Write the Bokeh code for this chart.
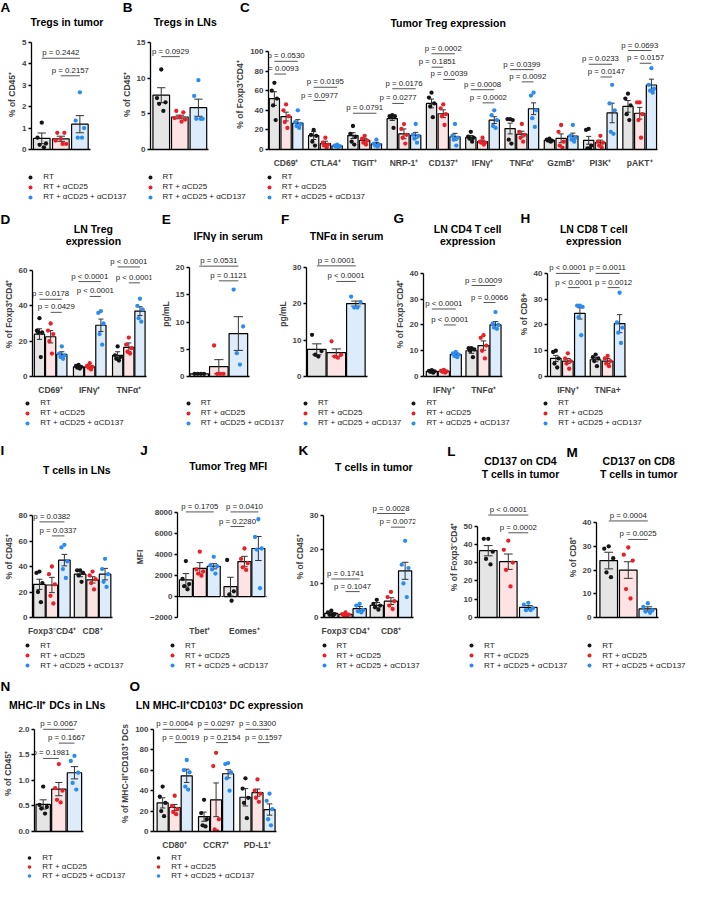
import numpy as np
from bokeh.plotting import figure
from bokeh.models import (Range1d, FixedTicker, Label, Legend, LegendItem,
                          NumeralTickFormatter)
from bokeh.layouts import row, column
from bokeh.embed import file_html
from bokeh.resources import INLINE
from bokeh.core.properties import value

# ------------------------------------------------------------------ data
CONDITIONS = ["RT", "RT + αCD25", "RT + αCD25 + αCD137"]

A_groups = [""]
A_means = [[0.52, 0.50, 1.18]]
A_sems = [[0.25, 0.12, 0.40]]
A_pts = [[[1.25, 0.55, 0.28, 0.22, 0.10], [0.78, 0.78, 0.50, 0.42, 0.26, 0.26], [2.67, 1.35, 1.00, 0.55, 0.55]]]
A_pvals = [("p = 0.2442", 0, 0, 2, 4.26), ("p = 0.2157", 0, 1, 2, 3.44)]
A_ticks = [0, 1, 2, 3, 4, 5]

B_groups = [""]
B_means = [[7.6, 4.55, 5.85]]
B_sems = [[1.05, 0.25, 1.2]]
B_pts = [[[11.2, 7.2, 6.6, 6.4, 5.4], [5.4, 5.2, 4.6, 4.4, 4.2, 3.9], [9.7, 7.5, 4.3, 4.3, 4.3]]]
B_pvals = [("p = 0.0929", 0, 0, 1, 13.0)]
B_ticks = [0, 5, 10, 15]

C_groups = ["CD69⁺", "CTLA4⁺", "TIGIT⁺", "NRP-1⁺", "CD137⁺", "IFNγ⁺", "TNFα⁺", "GzmB⁺", "PI3K⁺", "pAKT⁺"]
C_means = [[52, 33.6, 27], [14.2, 6, 3.7], [14.2, 9.4, 5.7], [31.6, 16, 14.5], [47, 36.5, 13],
           [12.3, 8, 30], [21.4, 15.7, 41.6], [9.4, 11.4, 13.7], [9.4, 7.1, 37.3], [44, 37, 65.8]]
C_sems = [[7, 4.5, 3.5], [4, 2.5, 1], [3, 2, 1.5], [2, 5, 3], [4.5, 4, 3.5],
          [2, 1.5, 3.5], [5.5, 3, 6], [1, 4.5, 3], [4, 2.5, 10], [6, 6, 6]]
C_pts = [
    [[68, 60, 52, 45, 30], [46, 40, 34, 28, 22], [40, 28, 26, 24, 22]],
    [[20, 15, 14, 8, 4], [12, 7, 5, 4, 2], [5, 4, 3.5, 3, 2.5]],
    [[24, 16, 13, 8, 5], [14, 11, 9, 7, 5], [10, 6, 5, 4, 3]],
    [[35, 34, 34, 33, 22], [26, 21, 15, 12, 6], [26, 15, 14, 11, 7]],
    [[58, 53, 47, 44, 33], [46, 42, 36, 34, 25], [26, 14, 12, 10, 4]],
    [[18, 13, 12, 11, 8], [12, 8, 7, 7, 5], [40, 35, 30, 24, 22]],
    [[31, 31, 30, 10, 6], [26, 18, 15, 12, 8], [58, 55, 40, 32, 23]],
    [[11, 10, 9, 9, 8], [25, 18, 8, 4, 2], [25, 14, 12, 10, 8]],
    [[21, 20, 4, 1, 1], [14, 8, 7, 4, 2], [66, 47, 40, 18, 16]],
    [[57, 52, 45, 36, 30], [48, 48, 36, 30, 12], [83, 66, 62, 60, 58]],
]
C_pvals = [("p = 0.0530", 0, 0, 2, 90), ("p = 0.0093", 0, 0, 1, 77),
           ("p = 0.0195", 1, 0, 2, 63.5), ("p = 0.0977", 1, 0, 1, 50),
           ("p = 0.0791", 2, 0, 2, 37),
           ("p = 0.0176", 3, 0, 2, 62), ("p = 0.0277", 3, 0, 1, 47),
           ("p = 0.0002", 4, 0, 2, 97.7), ("p = 0.1851", 4, 0, 1, 84), ("p = 0.0039", 4, 1, 2, 71.5),
           ("p = 0.0008", 5, 0, 2, 61), ("p = 0.0002", 5, 1, 2, 47.6),
           ("p = 0.0399", 6, 0, 2, 81.5), ("p = 0.0092", 6, 1, 2, 69),
           ("p = 0.0233", 8, 0, 2, 87), ("p = 0.0147", 8, 1, 2, 74),
           ("p = 0.0693", 9, 0, 2, 101), ("p = 0.0157", 9, 1, 2, 88)]
C_ticks = [0, 20, 40, 60, 80, 100]

D_groups = ["CD69⁺", "IFNγ⁺", "TNFα⁺"]
D_means = [[24, 22.5, 12.5], [5.5, 5.5, 29], [12, 16.5, 37]]
D_sems = [[3, 3.5, 1.5], [0.5, 0.5, 3.5], [2, 2.5, 2.5]]
D_pts = [[[33, 26, 25, 25, 11], [30, 26, 24, 20, 13], [17, 13, 12, 11, 10]],
         [[6.5, 6, 5.5, 5, 4.5], [7.5, 6, 5.5, 5, 4], [37, 36, 30, 24, 18]],
         [[17, 12, 11, 10, 9], [22, 18, 16, 14, 13], [44, 40, 38, 33, 31]]]
D_pvals = [("p = 0.0178", 0, 0, 2, 43.7), ("p = 0.0429", 0, 1, 2, 36.3),
           ("p < 0.0001", 1, 0, 2, 53.7), ("p < 0.0001", 1, 1, 2, 45.3),
           ("p < 0.0001", 2, 0, 2, 62), ("p < 0.0001", 2, 1, 2, 53)]
D_ticks = [0, 20, 40, 60]

E_groups = [""]
E_means = [[0.5, 1.8, 7.9]]
E_sems = [[0, 1.3, 3.1]]
E_pts = [[[0.5, 0.5, 0.5, 0.5], [5.7, 0.5, 0.5, 0.5], [16, 9.2, 4.3, 2.2]]]
E_pvals = [("p = 0.0531", 0, 0, 2, 20.3), ("p = 0.1121", 0, 1, 2, 17.6)]
E_ticks = [0, 5, 10, 15, 20]

F_groups = [""]
F_means = [[7.5, 6.6, 20.1]]
F_sems = [[1.5, 1.0, 0.7]]
F_pts = [[[11.5, 7, 6, 5.5], [9.7, 6, 5.5, 5.2], [22, 20.5, 19, 19]]]
F_pvals = [("p = 0.0001", 0, 0, 2, 30.5), ("p < 0.0001", 0, 1, 2, 26.2)]
F_ticks = [0, 10, 20, 30]

G_groups = ["IFNγ⁺", "TNFα⁺"]
G_means = [[2, 2, 8.5], [10, 12, 20]]
G_sems = [[0.3, 0.3, 0.7], [1, 1.8, 1.3]]
G_pts = [[[2.5, 2.2, 2, 1.8, 1.5], [2.6, 2.2, 2, 1.8, 1.5], [9.5, 9, 8.5, 8, 7.5]],
         [[11, 11, 10.5, 10, 7.5], [16, 15, 12, 10, 7], [25, 20.5, 20, 19, 18.5]]]
G_pvals = [("p < 0.0001", 0, 0, 2, 26.2), ("p < 0.0001", 0, 1, 2, 20),
           ("p = 0.0009", 1, 0, 2, 35.3), ("p = 0.0066", 1, 1, 2, 28.7)]
G_ticks = [0, 10, 20, 30, 40]

H_groups = ["IFNγ⁺", "TNFa+"]
H_means = [[7, 6, 24.5], [6.5, 6, 20.5]]
H_sems = [[1.2, 1, 2.2], [0.8, 1, 3.5]]
H_pts = [[[10, 9.5, 7, 5, 3.5], [9, 7, 6, 5, 3], [27.5, 27.5, 27, 23, 16]],
         [[8.5, 7.5, 7, 6, 4], [8, 7, 6, 5, 4], [32.5, 21, 19, 17, 13]]]
H_pvals = [("p < 0.0001", 0, 0, 2, 40), ("p < 0.0001", 0, 1, 2, 34.5),
           ("p = 0.0011", 1, 0, 2, 40), ("p = 0.0012", 1, 1, 2, 34.5)]
H_ticks = [0, 10, 20, 30, 40]

I_groups = ["Foxp3⁻CD4⁺", "CD8⁺"]
I_means = [[26, 25.5, 45], [34, 29.5, 34]]
I_sems = [[4, 6, 4.5], [2, 2.5, 4.5]]
I_pts = [[[36, 35, 27, 20, 12], [40, 34, 26, 17, 11], [57, 55, 44, 38, 31]],
         [[37, 37, 35, 33, 28], [36, 33, 30, 27, 22], [46, 38, 34, 28, 24]]]
I_pvals = [("p = 0.0382", 0, 0, 2, 75), ("p = 0.0337", 0, 1, 2, 64)]
I_ticks = [0, 20, 40, 60, 80]

J_groups = ["Tbet⁺", "Eomes⁺"]
J_means = [[1600, 2700, 2900], [950, 3350, 4600]]
J_sems = [[600, 550, 250], [900, 500, 1150]]
J_pts = [[[3400, 1700, 1200, 1000, 700], [4300, 2600, 2400, 2200, 2000], [3800, 3000, 2900, 2600, 2200]],
         [[3500, 500, 200, -400], [4600, 3600, 3200, 2800, 2550], [7400, 5700, 4600, 4500, 800]]]
J_pvals = [("p = 0.1705", 0, 0, 2, 8100), ("p = 0.0410", 1, 0, 2, 8100), ("p = 0.2280", 1, 0, 1, 6700)]
J_ticks = [-2000, 0, 2000, 4000, 6000, 8000]

K_groups = ["Foxp3⁻CD4⁺", "CD8⁺"]
K_means = [[1.2, 0.9, 2.6], [3.6, 4.8, 13.7]]
K_sems = [[0.3, 0.2, 0.6], [0.8, 1.0, 2.5]]
K_pts = [[[2, 1.5, 1, 0.8, 0.6], [1.5, 1, 0.8, 0.6, 0.5], [4, 3.5, 2.2, 1.8, 1.5]],
         [[5.2, 4, 3.5, 3, 2.3], [7.5, 6, 4.8, 3.5, 2.5], [22.5, 15.5, 14.5, 10, 6]]]
K_pvals = [("p = 0.1741", 0, 0, 2, 11.3), ("p = 0.1047", 0, 1, 2, 7.6),
           ("p = 0.0028", 1, 0, 2, 30.5), ("p = 0.0072", 1, 1, 2, 26.5)]
K_ticks = [0, 10, 20, 30]

L_groups = [""]
L_means = [[36.5, 30.5, 5.5]]
L_sems = [[2.8, 4.2, 1.0]]
L_pts = [[[43, 43, 36, 32, 29], [42, 37, 30, 26, 17], [8, 7, 5, 4, 4]]]
L_pvals = [("p < 0.0001", 0, 0, 2, 56), ("p = 0.0002", 0, 1, 2, 46.3)]
L_ticks = [0, 10, 20, 30, 40, 50]

M_groups = [""]
M_means = [[24, 20, 3.6]]
M_sems = [[3.5, 3.5, 0.9]]
M_pts = [[[30, 29, 25, 19, 17], [29.5, 26.5, 24, 12, 8], [6, 4.5, 3, 2.5, 2]]]
M_pvals = [("p = 0.0004", 0, 0, 2, 40.7), ("p = 0.0025", 0, 1, 2, 32.9)]
M_ticks = [0, 10, 20, 30, 40]

N_groups = [""]
N_means = [[0.53, 0.83, 1.15]]
N_sems = [[0.09, 0.13, 0.12]]
N_pts = [[[0.88, 0.52, 0.48, 0.45, 0.35], [1.32, 0.85, 0.8, 0.62, 0.57], [1.48, 1.38, 1.15, 0.95, 0.82]]]
N_pvals = [("p = 0.0067", 0, 0, 2, 2.0), ("p = 0.1667", 0, 1, 2, 1.73), ("p = 0.1981", 0, 0, 1, 1.43)]
N_ticks = [0, 0.5, 1.0, 1.5, 2.0]

O_groups = ["CD80⁺", "CCR7⁺", "PD-L1⁺"]
O_means = [[28, 23.5, 54.5], [14.5, 31, 56.5], [33.5, 38, 21.5]]
O_sems = [[5, 3, 6.5], [4.5, 16.5, 4], [8.5, 3.5, 5.5]]
O_pts = [[[44, 34, 28, 20, 15], [35, 25, 22, 19, 17], [70, 60, 58, 44, 41]],
         [[31, 18, 12, 6, 5], [77, 64, 12, 2, 0], [67, 66, 58, 52, 40]],
         [[52, 42, 33, 28, 13], [51, 40, 37, 33, 29], [37, 30, 22, 12, 6]]]
O_pvals = [("p = 0.0064", 0, 0, 2, 100), ("p = 0.0019", 0, 1, 2, 87),
           ("p = 0.0297", 1, 0, 2, 100), ("p = 0.2154", 1, 1, 2, 87),
           ("p = 0.3300", 2, 0, 2, 100), ("p = 0.1597", 2, 1, 2, 87)]
O_ticks = [0, 20, 40, 60, 80, 100]

DATA = {
    "A": (A_groups, A_means, A_sems, A_pts, A_pvals, A_ticks),
    "B": (B_groups, B_means, B_sems, B_pts, B_pvals, B_ticks),
    "C": (C_groups, C_means, C_sems, C_pts, C_pvals, C_ticks),
    "D": (D_groups, D_means, D_sems, D_pts, D_pvals, D_ticks),
    "E": (E_groups, E_means, E_sems, E_pts, E_pvals, E_ticks),
    "F": (F_groups, F_means, F_sems, F_pts, F_pvals, F_ticks),
    "G": (G_groups, G_means, G_sems, G_pts, G_pvals, G_ticks),
    "H": (H_groups, H_means, H_sems, H_pts, H_pvals, H_ticks),
    "I": (I_groups, I_means, I_sems, I_pts, I_pvals, I_ticks),
    "J": (J_groups, J_means, J_sems, J_pts, J_pvals, J_ticks),
    "K": (K_groups, K_means, K_sems, K_pts, K_pvals, K_ticks),
    "L": (L_groups, L_means, L_sems, L_pts, L_pvals, L_ticks),
    "M": (M_groups, M_means, M_sems, M_pts, M_pvals, M_ticks),
    "N": (N_groups, N_means, N_sems, N_pts, N_pvals, N_ticks),
    "O": (O_groups, O_means, O_sems, O_pts, O_pvals, O_ticks),
}

TEXTS = {
    "A": ("% of CD45⁺", ["Tregs in tumor"]),
    "B": ("% of CD45⁺", ["Tregs in LNs"]),
    "C": ("% of Foxp3⁺CD4⁺", ["Tumor Treg expression"]),
    "D": ("% of Foxp3⁺CD4⁺", ["LN Treg", "expression"]),
    "E": ("pg/mL", ["IFNγ in serum"]),
    "F": ("pg/mL", ["TNFα in serum"]),
    "G": ("% of Foxp3⁻CD4⁺", ["LN CD4 T cell", "expression"]),
    "H": ("% of CD8+", ["LN CD8 T cell", "expression"]),
    "I": ("% of CD45⁺", ["T cells in LNs"]),
    "J": ("MFI", ["Tumor Treg MFI"]),
    "K": ("% of CD45⁺", ["T cells in tumor"]),
    "L": ("% of Foxp3⁻CD4⁺", ["CD137 on CD4", "T cells in tumor"]),
    "M": ("% of CD8⁺", ["CD137 on CD8", "T cells in tumor"]),
    "N": ("% of CD45⁺", ["MHC-II⁺ DCs in LNs"]),
    "O": ("% of MHC-II⁺CD103⁺ DCs", ["LN MHC-II⁺CD103⁺ DC expression"]),
}

# ------------------------------------------------------------------ layout / style
SX = 691 / 707
SY = 881 / 897
def X(v): return v * SX
def Y(v): return v * SY

FONT = "Liberation Sans"
PT_COLORS = ["#151515", "#ea1f27", "#2a8cf0"]
BAR_COLORS = ["#e5e5e5", "#fde3e3", "#dcecfb"]

# header / panels / legend strips for the four rows (reference pixels)
BAND_EDGES = [0, 30, 173, 205, 256, 404, 436, 495, 650, 684, 728, 867, 897]
BANDS = [(round(Y(a)), round(Y(b))) for a, b in zip(BAND_EDGES[:-1], BAND_EDGES[1:])]

GEO = {
    "A": dict(band=1, x0=0, x1=120, axis=31.5, right=96, amin=0, amax=5, p0=161, p1=43, top=40,
              c0=42, bp=19.5, bw=17, gp=0, lx=0, ly=7, tx=68, ty=[22]),
    "B": dict(band=1, x0=120, x1=232, axis=153, right=218, amin=0, amax=15, p0=161, p1=43, top=40,
              c0=164, bp=19, bw=17, gp=0, lx=125, ly=7, tx=189, ty=[22]),
    "C": dict(band=1, x0=232, x1=707, axis=274.5, right=692, amin=0, amax=100, p0=161, p1=44, top=30,
              c0=280.5, bp=12, bw=10.5, gp=40.2, lx=245, ly=7, tx=458, ty=[23]),
    "D": dict(band=4, x0=0, x1=160, axis=27, right=155, amin=0, amax=60, p0=390, p1=276, top=256,
              c0=34.5, bp=12, bw=11, gp=42, lx=0, ly=223, tx=95, ty=[233, 245]),
    "E": dict(band=4, x0=160, x1=280, axis=193, right=262, amin=0, amax=20, p0=389, p1=273, top=256,
              c0=203, bp=20, bw=19, gp=0, lx=165, ly=223, tx=233, ty=[240]),
    "F": dict(band=4, x0=280, x1=400, axis=313, right=385, amin=0, amax=30, p0=390, p1=273, top=256,
              c0=323.5, bp=20, bw=19, gp=0, lx=287, ly=223, tx=354, ty=[240]),
    "G": dict(band=4, x0=400, x1=527, axis=428, right=520, amin=0, amax=40, p0=389, p1=279, top=256,
              c0=437, bp=13, bw=12, gp=43, lx=402, ly=222, tx=478, ty=[233, 245]),
    "H": dict(band=4, x0=527, x1=707, axis=555, right=650, amin=0, amax=40, p0=389, p1=279, top=256,
              c0=564, bp=13, bw=11.5, gp=43, lx=532, ly=222, tx=607, ty=[233, 245]),
    "I": dict(band=7, x0=0, x1=135, axis=28, right=122, amin=0, amax=80, p0=634, p1=525, top=505,
              c0=35.5, bp=13.5, bw=12.5, gp=44, lx=0, ly=458, tx=78, ty=[478]),
    "J": dict(band=7, x0=135, x1=290, axis=176, right=280, amin=-2000, amax=8000, p0=635, p1=518, top=500,
              c0=185, bp=15, bw=14, gp=48, lx=143, ly=458, tx=233, ty=[474]),
    "K": dict(band=7, x0=290, x1=440, axis=330, right=425, amin=0, amax=30, p0=636, p1=525, top=505,
              c0=338, bp=14.5, bw=13.5, gp=46.5, lx=305, ly=458, tx=382, ty=[475]),
    "L": dict(band=7, x0=440, x1=575, axis=488, right=558, amin=0, amax=50, p0=636, p1=529, top=495,
              c0=499, bp=20.5, bw=18, gp=0, lx=457, ly=459, tx=532, ty=[469, 482]),
    "M": dict(band=7, x0=575, x1=707, axis=610, right=680, amin=0, amax=40, p0=636, p1=529, top=500,
              c0=622.5, bp=20, bw=18, gp=0, lx=579, ly=460, tx=653, ty=[469, 482]),
    "N": dict(band=10, x0=0, x1=120, axis=28, right=92, amin=0, amax=2, p0=856, p1=743, top=728,
              c0=38, bp=18, bw=16.5, gp=0, lx=0, ly=698, tx=58, ty=[717]),
    "O": dict(band=10, x0=120, x1=707, axis=155, right=292, amin=0, amax=100, p0=856, p1=743, top=728,
              c0=164.5, bp=12.5, bw=11.5, gp=43, lx=132, ly=698, tx=224, ty=[717]),
}

# header band, panels, legend band, legend dot x positions, first legend row centre, row height
ROWS = [(0, ["A", "B", "C"], 2, [31, 153, 275], 180, 10),
        (3, ["D", "E", "F", "G", "H"], 5, [28, 192, 312, 423, 558], 410, 10),
        (6, ["I", "J", "K", "L", "M"], 8, [28, 176, 331, 482, 603], 657, 10),
        (9, ["N", "O"], 11, [30, 162], 873, 9)]

JITTER = {1: [0], 2: [-0.5, 0.5], 3: [0, -0.6, 0.6], 4: [-0.6, 0.6, -0.2, 0.2],
          5: [0, -0.6, 0.6, -0.3, 0.3], 6: [-0.5, 0.5, 0, -0.75, 0.75, 0.25]}


def style_fig(p):
    p.xgrid.visible = False
    p.ygrid.visible = False
    p.outline_line_color = None
    p.background_fill_color = None
    p.border_fill_color = None


def strip_fig(band):
    y0, y1 = BANDS[band]
    H = y1 - y0
    f = figure(width=691, height=H, x_range=Range1d(0, 691), y_range=Range1d(0, H),
               min_border=0, min_border_left=0, min_border_right=0, min_border_top=0,
               min_border_bottom=0, toolbar_location=None, output_backend="svg")
    style_fig(f)
    f.axis.visible = False
    return f, y0, H


def build(key):
    g = GEO[key]
    groups, means, sems, pts, pvals, ticks = DATA[key]
    ylabel, _ = TEXTS[key]
    by0, by1 = BANDS[g["band"]]
    x0, x1 = round(X(g["x0"])), round(X(g["x1"]))
    fl, fr = round(X(g["axis"])), round(X(g["right"]))
    ft, fb = round(Y(g["top"])), round(Y(g["p0"]))
    bp, bw = g["bp"], g["bw"]
    kx = bp * SX
    xs = -(g["c0"] - g["axis"]) / bp
    xe = xs + (fr - fl) / kx
    amin, amax = g["amin"], g["amax"]
    ppu = (g["p0"] - g["p1"]) * SY / (amax - amin)
    ye = amin + (fb - ft) / ppu
    p = figure(width=x1 - x0, height=by1 - by0,
               x_range=Range1d(xs, xe), y_range=Range1d(amin, ye),
               min_border_left=fl - x0, min_border_right=x1 - fr,
               min_border_top=max(ft - by0, 0), min_border_bottom=by1 - fb,
               toolbar_location=None, output_backend="svg")
    style_fig(p)
    GP = g["gp"] / bp if g["gp"] else 0
    wd = bw / bp
    bx, btop, bfill, elo, ehi, ex = [], [], [], [], [], []
    for gi in range(len(groups)):
        for k in range(3):
            x = gi * GP + k
            bx.append(x)
            btop.append(means[gi][k])
            bfill.append(BAR_COLORS[k])
            if sems[gi][k] > 0:
                ex.append(x)
                elo.append(means[gi][k] - sems[gi][k])
                ehi.append(means[gi][k] + sems[gi][k])
    p.vbar(x=bx, width=wd, bottom=0, top=btop, fill_color=bfill,
           line_color="black", line_width=1.2)
    cap = 0.25 * wd
    ex = np.array(ex)
    p.segment(x0=ex, y0=elo, x1=ex, y1=ehi, line_color="#333333", line_width=1)
    p.segment(x0=ex - cap, y0=ehi, x1=ex + cap, y1=ehi, line_color="#333333", line_width=1)
    p.segment(x0=ex - cap, y0=elo, x1=ex + cap, y1=elo, line_color="#333333", line_width=1)
    for k in range(3):
        px, py = [], []
        for gi in range(len(groups)):
            vals = pts[gi][k]
            offs = JITTER[len(vals)]
            for v, o in zip(vals, offs):
                px.append(gi * GP + k + o * 0.5 * wd * 0.85)
                py.append(v)
        p.scatter(x=px, y=py, size=4.3, fill_color=PT_COLORS[k], line_color=None)
    for text, gi, i, j, yv in pvals:
        xa_, xb_ = gi * GP + i, gi * GP + j
        p.segment(x0=[xa_], y0=[yv], x1=[xb_], y1=[yv], line_color="#555555", line_width=1)
        p.text(x=[(xa_ + xb_) / 2], y=[yv], text=[text], text_align="center",
               text_baseline="bottom", y_offset=-1, text_font=value(FONT),
               text_font_size="7.8px", text_color="#222222")
    last_edge = (len(groups) - 1) * GP + 2 + 0.5 * wd + 0.12
    if key == "J":
        p.segment(x0=[xs], y0=[0], x1=[last_edge], y1=[0], line_color="black",
                  line_width=1, line_dash="2 2")
    ya = p.yaxis[0]
    ya.ticker = FixedTicker(ticks=ticks)
    ya.bounds = (amin, amax)
    ya.axis_label = ylabel
    ya.axis_label_text_font = FONT
    ya.axis_label_text_font_size = "8.5px"
    ya.axis_label_text_font_style = "bold"
    ya.axis_label_standoff = 2
    ya.major_label_text_font = FONT
    ya.major_label_text_font_size = "8px"
    ya.major_label_text_font_style = "bold"
    ya.major_label_standoff = 2
    ya.major_tick_out = 3
    ya.major_tick_in = 0
    ya.minor_tick_line_color = None
    ya.axis_line_width = 1.3
    ya.major_tick_line_width = 1.3
    if key == "N":
        ya.formatter = NumeralTickFormatter(format="0.0")
    xa = p.xaxis[0]
    if groups[0] != "":
        centers = [gi * GP + 1 for gi in range(len(groups))]
        xa.ticker = FixedTicker(ticks=centers)
        xa.major_label_overrides = {c: lab for c, lab in zip(centers, groups)}
    else:
        xa.ticker = FixedTicker(ticks=[])
    xa.bounds = (xs, last_edge)
    xa.major_tick_line_color = None
    xa.minor_tick_line_color = None
    xa.major_label_standoff = 2
    xa.major_label_text_font = FONT
    xa.major_label_text_font_size = "8.5px"
    xa.major_label_text_font_style = "bold"
    xa.axis_line_width = 1.3
    if key == "J":
        xa.axis_line_color = None
    return p


def header(band, keys):
    f, y0, H = strip_fig(band)
    for key in keys:
        g = GEO[key]
        f.add_layout(Label(x=X(g["lx"]), y=H - (Y(g["ly"]) - y0), text=key,
                           text_align="left", text_baseline="middle", text_font=FONT,
                           text_font_size="13.5px", text_font_style="bold", text_color="black"))
        for t, ty in zip(TEXTS[key][1], g["ty"]):
            f.add_layout(Label(x=X(g["tx"]), y=H - (Y(ty) - y0), text=t,
                               text_align="center", text_baseline="middle", text_font=FONT,
                               text_font_size="10.5px", text_font_style="bold", text_color="black"))
    return f


def legend_strip(band, dots, first_c, rh):
    f, y0, H = strip_fig(band)
    nan = [float("nan")]
    rs = [f.scatter(x=nan, y=nan, size=4.3, fill_color=c, line_color=None) for c in PT_COLORS]
    top = Y(first_c - rh / 2) - y0
    for d in dots:
        leg = Legend(items=[LegendItem(label=CONDITIONS[i], renderers=[rs[i]]) for i in range(3)],
                     location=(X(d) - 5, H - top - 3 * rh), orientation="vertical",
                     padding=0, margin=0, spacing=0, glyph_width=10, glyph_height=rh,
                     label_height=rh, label_standoff=8, label_text_font=FONT,
                     label_text_font_size="8px", label_text_color="#222222",
                     border_line_color=None, background_fill_color=None,
                     background_fill_alpha=0)
        f.add_layout(leg)
    return f


children = []
for hb, keys, lb, dots, fc, rh in ROWS:
    children.append(header(hb, keys))
    children.append(row(*[build(k) for k in keys]))
    children.append(legend_strip(lb, dots, fc, rh))

layout = column(*children)
open("out.html", "w").write(file_html(layout, INLINE))
